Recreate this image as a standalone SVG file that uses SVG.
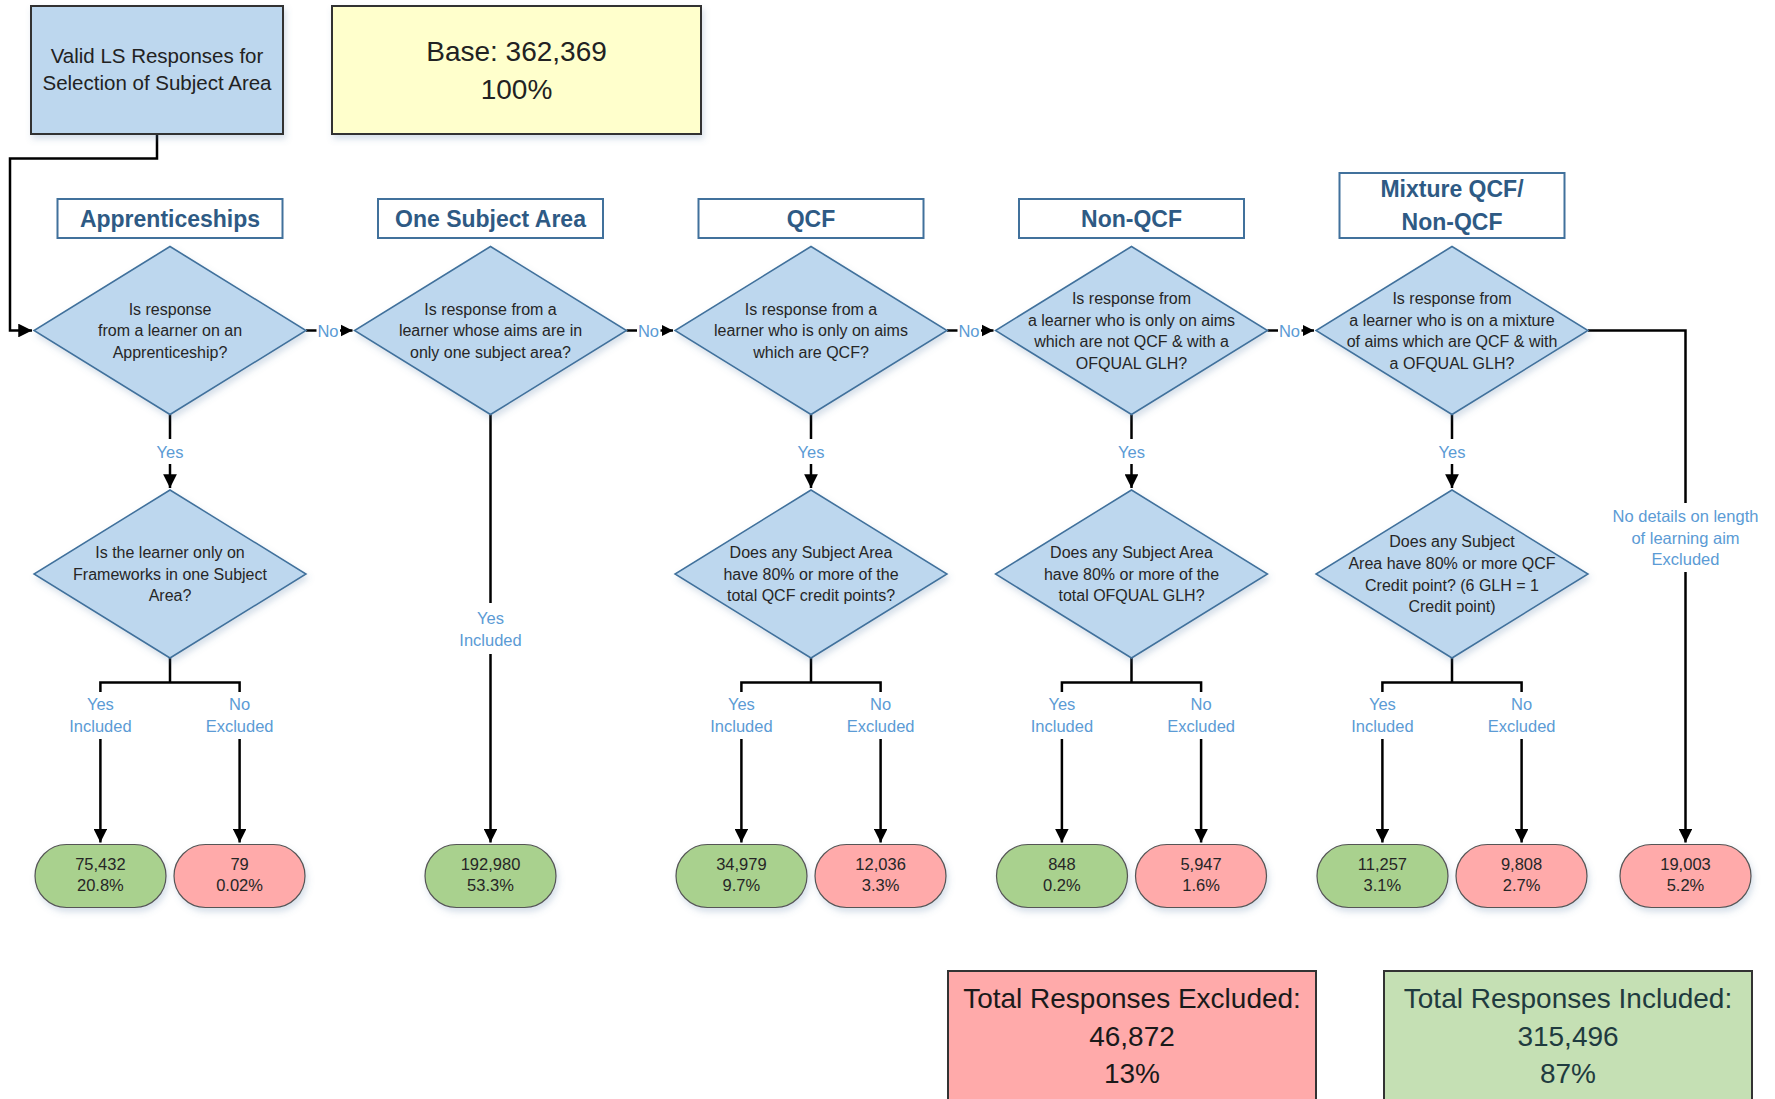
<svg xmlns="http://www.w3.org/2000/svg" width="1775" height="1099" viewBox="0 0 1775 1099">
<defs>
<marker id="arr" viewBox="0 0 10 10" refX="10" refY="5" markerWidth="5.5" markerHeight="5.5" markerUnits="strokeWidth" orient="auto">
<path d="M0,0 L10,5 L0,10 z" fill="#000"/>
</marker>
<marker id="arrs" viewBox="0 0 10 10" refX="10" refY="5" markerWidth="4.6" markerHeight="5.2" markerUnits="strokeWidth" orient="auto">
<path d="M0,0 L10,5 L0,10 z" fill="#000"/>
</marker>
<filter id="sh" x="-10%" y="-10%" width="125%" height="130%">
<feDropShadow dx="2" dy="4" stdDeviation="3" flood-color="#5b7fa8" flood-opacity="0.25"/>
</filter>
<style>
text{font-family:"Liberation Sans",Arial,sans-serif;text-anchor:middle;dominant-baseline:central}
.dia{fill:#BDD7EE;stroke:#41719C;stroke-width:1.5;filter:url(#sh)}
.dt{font-size:16px;fill:#262626}
.hdr{fill:#fff;stroke:#41719C;stroke-width:2}
.ht{font-size:23px;font-weight:bold;fill:#2E5A84}
.lab{font-size:16.5px;fill:#5B9BD5}
.grn{fill:#A9D18E;stroke:#555;stroke-width:1.2;filter:url(#sh)}
.red{fill:#FFAAAA;stroke:#555;stroke-width:1.2;filter:url(#sh)}
.tt{font-size:16.5px;fill:#262626}
.con{fill:none;stroke:#000;stroke-width:2.5}
</style>
</defs>

<g id="connectors">
<path class="con" d="M157,134 V158.5 H10 V330.5 H32" marker-end="url(#arr)"/>
<path class="con" d="M306,330.5 H316.5"/>
<path class="con" d="M340,330.5 H352.5" marker-end="url(#arrs)"/>
<path class="con" d="M626.5,330.5 H637"/>
<path class="con" d="M660.5,330.5 H673" marker-end="url(#arrs)"/>
<path class="con" d="M947,330.5 H957.5"/>
<path class="con" d="M981,330.5 H993.5" marker-end="url(#arrs)"/>
<path class="con" d="M1267.5,330.5 H1278"/>
<path class="con" d="M1301.5,330.5 H1314" marker-end="url(#arrs)"/>
<text class="lab" x="328" y="330.5">No</text>
<text class="lab" x="648.5" y="330.5">No</text>
<text class="lab" x="969" y="330.5">No</text>
<text class="lab" x="1289.5" y="330.5">No</text>
<path class="con" d="M170,414.5 V439"/><path class="con" d="M170,464 V488" marker-end="url(#arr)"/>
<path class="con" d="M811,414.5 V439"/><path class="con" d="M811,464 V488" marker-end="url(#arr)"/>
<path class="con" d="M1131.5,414.5 V439"/><path class="con" d="M1131.5,464 V488" marker-end="url(#arr)"/>
<path class="con" d="M1452,414.5 V439"/><path class="con" d="M1452,464 V488" marker-end="url(#arr)"/>
<text class="lab" x="170" y="451.7">Yes</text>
<text class="lab" x="811" y="451.7">Yes</text>
<text class="lab" x="1131.5" y="451.7">Yes</text>
<text class="lab" x="1452" y="451.7">Yes</text>
<path class="con" d="M490.5,414.5 V603"/><path class="con" d="M490.5,654 V842.5" marker-end="url(#arr)"/>
<text class="lab" x="490.5" y="618">Yes</text><text class="lab" x="490.5" y="640">Included</text>
<path class="con" d="M170,658 V682.6 M100.4,692 V682.6 H239.6 V692"/>
<path class="con" d="M100.4,739 V842.5" marker-end="url(#arr)"/>
<path class="con" d="M239.6,739 V842.5" marker-end="url(#arr)"/>
<path class="con" d="M811,658 V682.6 M741.4,692 V682.6 H880.6 V692"/>
<path class="con" d="M741.4,739 V842.5" marker-end="url(#arr)"/>
<path class="con" d="M880.6,739 V842.5" marker-end="url(#arr)"/>
<path class="con" d="M1131.5,658 V682.6 M1061.9,692 V682.6 H1201.1 V692"/>
<path class="con" d="M1061.9,739 V842.5" marker-end="url(#arr)"/>
<path class="con" d="M1201.1,739 V842.5" marker-end="url(#arr)"/>
<path class="con" d="M1452,658 V682.6 M1382.4,692 V682.6 H1521.6 V692"/>
<path class="con" d="M1382.4,739 V842.5" marker-end="url(#arr)"/>
<path class="con" d="M1521.6,739 V842.5" marker-end="url(#arr)"/>
<text class="lab" x="100.4" y="704">Yes</text><text class="lab" x="100.4" y="725.6">Included</text>
<text class="lab" x="239.6" y="704">No</text><text class="lab" x="239.6" y="725.6">Excluded</text>
<text class="lab" x="741.4" y="704">Yes</text><text class="lab" x="741.4" y="725.6">Included</text>
<text class="lab" x="880.6" y="704">No</text><text class="lab" x="880.6" y="725.6">Excluded</text>
<text class="lab" x="1061.9" y="704">Yes</text><text class="lab" x="1061.9" y="725.6">Included</text>
<text class="lab" x="1201.1" y="704">No</text><text class="lab" x="1201.1" y="725.6">Excluded</text>
<text class="lab" x="1382.4" y="704">Yes</text><text class="lab" x="1382.4" y="725.6">Included</text>
<text class="lab" x="1521.6" y="704">No</text><text class="lab" x="1521.6" y="725.6">Excluded</text>
<path class="con" d="M1588,330.5 H1685.5 V503"/>
<path class="con" d="M1685.5,572 V842.5" marker-end="url(#arr)"/>
<text class="lab" x="1685.5" y="516">No details on length</text>
<text class="lab" x="1685.5" y="537.7">of learning aim</text>
<text class="lab" x="1685.5" y="559">Excluded</text>
</g>

<g id="valid">
<rect x="31" y="6" width="252" height="128" fill="#BDD7EE" stroke="#333" stroke-width="2" filter="url(#sh)"/>
<text x="157" y="55.5" font-size="20.5" fill="#222">Valid LS Responses for</text>
<text x="157" y="82.6" font-size="20.5" fill="#222">Selection of Subject Area</text>
</g>

<g id="base">
<rect x="332" y="6" width="369" height="128" fill="#FFFFCC" stroke="#333" stroke-width="2" filter="url(#sh)"/>
<text x="516.5" y="51" font-size="28" fill="#222">Base: 362,369</text>
<text x="516.5" y="89" font-size="28" fill="#222">100%</text>
</g>

<g id="h-apprenticeships"><rect class="hdr" x="57.5" y="199" width="225" height="39"/><text class="ht" x="170" y="218.5">Apprenticeships</text></g>
<g id="h-one-subject"><rect class="hdr" x="378" y="199" width="225" height="39"/><text class="ht" x="490.5" y="218.5">One Subject Area</text></g>
<g id="h-qcf"><rect class="hdr" x="698.5" y="199" width="225" height="39"/><text class="ht" x="811" y="218.5">QCF</text></g>
<g id="h-nonqcf"><rect class="hdr" x="1019" y="199" width="225" height="39"/><text class="ht" x="1131.5" y="218.5">Non-QCF</text></g>
<g id="h-mixture"><rect class="hdr" x="1339.5" y="173" width="225" height="65"/><text class="ht" x="1452" y="189">Mixture QCF/</text><text class="ht" x="1452" y="222">Non-QCF</text></g>

<g id="d1">
<polygon class="dia" points="170,246.5 306,330.5 170,414.5 34,330.5"/>
<text class="dt" x="170" y="309">Is response</text>
<text class="dt" x="170" y="330.5">from a learner on an</text>
<text class="dt" x="170" y="352">Apprenticeship?</text>
</g>
<g id="d2">
<polygon class="dia" points="490.5,246.5 626.5,330.5 490.5,414.5 354.5,330.5"/>
<text class="dt" x="490.5" y="309">Is response from a</text>
<text class="dt" x="490.5" y="330.5">learner whose aims are in</text>
<text class="dt" x="490.5" y="352">only one subject area?</text>
</g>
<g id="d3">
<polygon class="dia" points="811,246.5 947,330.5 811,414.5 675,330.5"/>
<text class="dt" x="811" y="309">Is response from a</text>
<text class="dt" x="811" y="330.5">learner who is only on aims</text>
<text class="dt" x="811" y="352">which are QCF?</text>
</g>
<g id="d4">
<polygon class="dia" points="1131.5,246.5 1267.5,330.5 1131.5,414.5 995.5,330.5"/>
<text class="dt" x="1131.5" y="298.8">Is response from</text>
<text class="dt" x="1131.5" y="320.4">a learner who is only on aims</text>
<text class="dt" x="1131.5" y="341.9">which are not QCF &amp; with a</text>
<text class="dt" x="1131.5" y="363.4">OFQUAL GLH?</text>
</g>
<g id="d5">
<polygon class="dia" points="1452,246.5 1588,330.5 1452,414.5 1316,330.5"/>
<text class="dt" x="1452" y="298.8">Is response from</text>
<text class="dt" x="1452" y="320.4">a learner who is on a mixture</text>
<text class="dt" x="1452" y="341.9">of aims which are QCF &amp; with</text>
<text class="dt" x="1452" y="363.4">a OFQUAL GLH?</text>
</g>

<g id="d1b">
<polygon class="dia" points="170,490 306,574 170,658 34,574"/>
<text class="dt" x="170" y="552.4">Is the learner only on</text>
<text class="dt" x="170" y="574">Frameworks in one Subject</text>
<text class="dt" x="170" y="595.4">Area?</text>
</g>
<g id="d3b">
<polygon class="dia" points="811,490 947,574 811,658 675,574"/>
<text class="dt" x="811" y="552.4">Does any Subject Area</text>
<text class="dt" x="811" y="574">have 80% or more of the</text>
<text class="dt" x="811" y="595.4">total QCF credit points?</text>
</g>
<g id="d4b">
<polygon class="dia" points="1131.5,490 1267.5,574 1131.5,658 995.5,574"/>
<text class="dt" x="1131.5" y="552.4">Does any Subject Area</text>
<text class="dt" x="1131.5" y="574">have 80% or more of the</text>
<text class="dt" x="1131.5" y="595.4">total OFQUAL GLH?</text>
</g>
<g id="d5b">
<polygon class="dia" points="1452,490 1588,574 1452,658 1316,574"/>
<text class="dt" x="1452" y="541">Does any Subject</text>
<text class="dt" x="1452" y="563">Area have 80% or more QCF</text>
<text class="dt" x="1452" y="585">Credit point? (6 GLH = 1</text>
<text class="dt" x="1452" y="606.5">Credit point)</text>
</g>

<g id="t1"><rect class="grn" x="35" y="844.5" width="131" height="63" rx="31.5"/><text class="tt" x="100.4" y="863.7">75,432</text><text class="tt" x="100.4" y="885">20.8%</text></g>
<g id="t2"><rect class="red" x="174" y="844.5" width="131" height="63" rx="31.5"/><text class="tt" x="239.6" y="863.7">79</text><text class="tt" x="239.6" y="885">0.02%</text></g>
<g id="t3"><rect class="grn" x="425" y="844.5" width="131" height="63" rx="31.5"/><text class="tt" x="490.5" y="863.7">192,980</text><text class="tt" x="490.5" y="885">53.3%</text></g>
<g id="t4"><rect class="grn" x="676" y="844.5" width="131" height="63" rx="31.5"/><text class="tt" x="741.4" y="863.7">34,979</text><text class="tt" x="741.4" y="885">9.7%</text></g>
<g id="t5"><rect class="red" x="815" y="844.5" width="131" height="63" rx="31.5"/><text class="tt" x="880.6" y="863.7">12,036</text><text class="tt" x="880.6" y="885">3.3%</text></g>
<g id="t6"><rect class="grn" x="996.5" y="844.5" width="131" height="63" rx="31.5"/><text class="tt" x="1061.9" y="863.7">848</text><text class="tt" x="1061.9" y="885">0.2%</text></g>
<g id="t7"><rect class="red" x="1135.5" y="844.5" width="131" height="63" rx="31.5"/><text class="tt" x="1201.1" y="863.7">5,947</text><text class="tt" x="1201.1" y="885">1.6%</text></g>
<g id="t8"><rect class="grn" x="1317" y="844.5" width="131" height="63" rx="31.5"/><text class="tt" x="1382.4" y="863.7">11,257</text><text class="tt" x="1382.4" y="885">3.1%</text></g>
<g id="t9"><rect class="red" x="1456" y="844.5" width="131" height="63" rx="31.5"/><text class="tt" x="1521.6" y="863.7">9,808</text><text class="tt" x="1521.6" y="885">2.7%</text></g>
<g id="t10"><rect class="red" x="1620" y="844.5" width="131" height="63" rx="31.5"/><text class="tt" x="1685.5" y="863.7">19,003</text><text class="tt" x="1685.5" y="885">5.2%</text></g>

<g id="total-excluded">
<rect x="948" y="971" width="368" height="140" fill="#FFAAAA" stroke="#333" stroke-width="2"/>
<text x="1132" y="998" font-size="28" fill="#1a1a1a">Total Responses Excluded:</text>
<text x="1132" y="1036" font-size="28" fill="#1a1a1a">46,872</text>
<text x="1132" y="1073" font-size="28" fill="#1a1a1a">13%</text>
</g>
<g id="total-included">
<rect x="1384" y="971" width="368" height="140" fill="#C5E0B4" stroke="#333" stroke-width="2"/>
<text x="1568" y="998" font-size="28" fill="#1F3B3F">Total Responses Included:</text>
<text x="1568" y="1036" font-size="28" fill="#1F3B3F">315,496</text>
<text x="1568" y="1073" font-size="28" fill="#1F3B3F">87%</text>
</g>
</svg>
